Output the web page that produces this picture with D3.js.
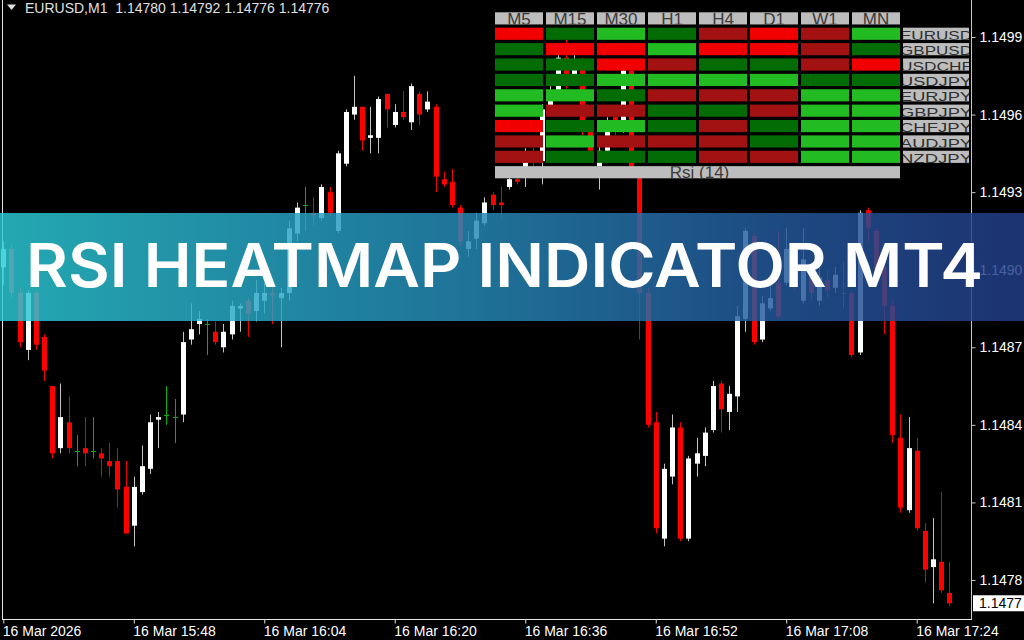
<!DOCTYPE html>
<html><head><meta charset="utf-8">
<script src="https://cdn.jsdelivr.net/npm/d3@7"></script>
<style>html,body{margin:0;padding:0;background:#000;overflow:hidden}</style>
</head><body>
<svg id="chart" width="1024" height="640"></svg>
<script>
// ---------- data ----------
const startTime = "2026-03-16 15:32";
const open = [1.14901,1.14908,1.14891,1.14869,1.14891,1.14874,1.14855,1.14831,1.14841,1.14830,
1.14831,1.14830,1.14829,1.14826,1.14826,1.14816,1.14801,1.14814,1.14823,1.14842,
1.14844,1.14843,1.14844,1.14873,1.14879,1.14879,1.14876,1.14870,1.14875,1.14885,
1.14888,1.14884,1.14888,1.14891,1.14889,1.14891,1.14914,1.14925,1.14922,1.14920,
1.14930,1.14915,1.14941,1.14960,1.14963,1.14951,1.14951,1.14968,1.14956,1.14961,
1.14957,1.14968,1.14962,1.14963,1.14935,1.14934,1.14924,1.14908,1.14912,1.14918,
1.14929,1.14926,1.14932,1.14935,1.14939,1.14944,1.14942,1.14962,1.14969,1.14982,
1.14973,1.14981,1.14955,1.14940,1.14946,1.14959,1.14954,1.14977,1.14938,1.14891,
1.14841,1.14796,1.14820,1.14839,1.14796,1.14825,1.14828,1.14838,1.14856,1.14845,
1.14851,1.14881,1.14913,1.14873,1.14885,1.14895,1.14895,1.14904,1.14888,1.14899,
1.14888,1.14896,1.14893,1.14891,1.14891,1.14868,1.14923,1.14915,1.14901,1.14886,
1.14835,1.14807,1.14830,1.14799,1.14785,1.14787,1.14775];
const high = [1.14911,1.14910,1.14893,1.14892,1.14892,1.14875,1.14855,1.14856,1.14851,1.14836,
1.14843,1.14843,1.14831,1.14833,1.14831,1.14826,1.14820,1.14832,1.14844,1.14845,
1.14855,1.14850,1.14876,1.14887,1.14884,1.14881,1.14880,1.14879,1.14888,1.14887,
1.14889,1.14896,1.14895,1.14894,1.14893,1.14919,1.14926,1.14932,1.14928,1.14933,
1.14932,1.14946,1.14962,1.14975,1.14963,1.14963,1.14967,1.14968,1.14964,1.14969,
1.14972,1.14969,1.14969,1.14964,1.14938,1.14939,1.14925,1.14915,1.14922,1.14928,
1.14930,1.14932,1.14936,1.14939,1.14947,1.14947,1.14964,1.14971,1.14983,1.14989,
1.14983,1.14982,1.14956,1.14948,1.14959,1.14961,1.14980,1.14981,1.14940,1.14893,
1.14845,1.14825,1.14844,1.14841,1.14828,1.14835,1.14839,1.14857,1.14857,1.14855,
1.14886,1.14916,1.14914,1.14890,1.14895,1.14915,1.14916,1.14906,1.14916,1.14903,
1.14904,1.14900,1.14901,1.14903,1.14892,1.14923,1.14924,1.14916,1.14903,1.14888,
1.14844,1.14843,1.14835,1.14802,1.14804,1.14814,1.14787];
const low = [1.14894,1.14889,1.14870,1.14865,1.14869,1.14857,1.14827,1.14829,1.14829,1.14824,
1.14824,1.14827,1.14820,1.14820,1.14808,1.14798,1.14793,1.14813,1.14821,1.14831,
1.14840,1.14833,1.14841,1.14871,1.14875,1.14867,1.14871,1.14868,1.14873,1.14876,
1.14874,1.14880,1.14883,1.14879,1.14870,1.14888,1.14911,1.14915,1.14917,1.14919,
1.14921,1.14914,1.14940,1.14958,1.14946,1.14945,1.14945,1.14955,1.14955,1.14958,
1.14954,1.14956,1.14961,1.14930,1.14932,1.14924,1.14909,1.14905,1.14908,1.14917,
1.14923,1.14920,1.14931,1.14933,1.14932,1.14940,1.14933,1.14960,1.14968,1.14970,
1.14971,1.14952,1.14944,1.14931,1.14944,1.14952,1.14953,1.14938,1.14873,1.14839,
1.14798,1.14793,1.14817,1.14795,1.14795,1.14820,1.14824,1.14837,1.14837,1.14838,
1.14845,1.14876,1.14871,1.14872,1.14884,1.14881,1.14894,1.14892,1.14887,1.14888,
1.14886,1.14889,1.14891,1.14885,1.14866,1.14867,1.14911,1.14894,1.14875,1.14833,
1.14806,1.14806,1.14799,1.14779,1.14771,1.14775,1.14770];
const close = [1.14908,1.14891,1.14872,1.14891,1.14871,1.14861,1.14829,1.14843,1.14831,1.14830,
1.14829,1.14830,1.14827,1.14824,1.14815,1.14798,1.14816,1.14824,1.14841,1.14843,
1.14844,1.14843,1.14872,1.14877,1.14881,1.14879,1.14872,1.14876,1.14886,1.14886,
1.14883,1.14891,1.14891,1.14890,1.14891,1.14916,1.14924,1.14925,1.14921,1.14932,
1.14922,1.14945,1.14961,1.14963,1.14950,1.14952,1.14966,1.14962,1.14961,1.14959,
1.14971,1.14960,1.14965,1.14936,1.14933,1.14925,1.14911,1.14911,1.14919,1.14926,
1.14925,1.14925,1.14935,1.14934,1.14944,1.14942,1.14962,1.14969,1.14982,1.14973,
1.14981,1.14955,1.14946,1.14946,1.14956,1.14954,1.14977,1.14939,1.14891,1.14840,
1.14800,1.14823,1.14839,1.14796,1.14827,1.14829,1.14837,1.14855,1.14846,1.14852,
1.14882,1.14915,1.14872,1.14887,1.14889,1.14882,1.14908,1.14895,1.14904,1.14891,
1.14897,1.14892,1.14898,1.14891,1.14867,1.14922,1.14916,1.14900,1.14886,1.14836,
1.14808,1.14831,1.14800,1.14784,1.14788,1.14776,1.14771];

const priceTicks = [1.1499, 1.1496, 1.1493, 1.1490, 1.1487, 1.1484, 1.1481, 1.1478];
const timeTicks = ["15:32","15:48","16:04","16:20","16:36","16:52","17:08","17:24"];
const timeTickLabels = ["16 Mar 2026","16 Mar 15:48","16 Mar 16:04","16 Mar 16:20",
  "16 Mar 16:36","16 Mar 16:52","16 Mar 17:08","16 Mar 17:24"];
const headerSymbol = "EURUSD,M1";
const headerOHLC = ["1.14780","1.14792","1.14776","1.14776"];

const timeframes = ["M5","M15","M30","H1","H4","D1","W1","MN"];
const pairs = ["EURUSD","GBPUSD","USDCHF","USDJPY","EURJPY","GBPJPY","CHFJPY","AUDJPY","NZDJPY"];
const rsiValues = [
  [24,58,76,57,42,23,41,77],
  [57,25,22,78,24,22,43,58],
  [56,58,24,43,57,58,42,23],
  [58,57,75,76,74,77,56,59],
  [77,76,58,42,41,43,78,75],
  [76,42,41,57,58,42,77,76],
  [23,57,76,58,43,56,77,78],
  [42,75,43,41,42,57,76,77],
  [43,58,57,56,42,41,78,76]];
const rsiLabel = "Rsi (14)";
const title = "RSI HEATMAP INDICATOR MT4";

// ---------- drawing ----------
const svg = d3.select("#chart");
const FONT = "'Liberation Sans', Arial, sans-serif";
svg.append("rect").attr("width",1024).attr("height",640).attr("fill","#000");

const parse = d3.timeParse("%Y-%m-%d %H:%M");
const t0 = parse(startTime);
const tickDates = timeTicks.map(s => parse("2026-03-16 " + s));
const xs = d3.scaleTime().domain([tickDates[0], tickDates[tickDates.length-1]]).range([3.3, 916.7]);
const ys = d3.scaleLinear().domain([1.1478, 1.1499]).range([580, 37]);

const bars = open.map((o,i) => ({t: d3.timeMinute.offset(t0, i), o, h: high[i], l: low[i], c: close[i]}));

const gC = svg.append("g");
bars.forEach(d => {
  const xc = Math.round(xs(d.t));
  const doji = d.o === d.c;
  const up = d.c > d.o;
  const wickCol = doji ? "#00b400" : (up ? "#c4c4c4" : "#ee0000");
  gC.append("line").attr("x1", xc+0.5).attr("x2", xc+0.5)
    .attr("y1", ys(d.h)).attr("y2", ys(d.l)).attr("stroke", wickCol).attr("stroke-width", 1);
  if (doji) {
    const yy = Math.round(ys(d.o)) + 0.5;
    gC.append("line").attr("x1", xc-2).attr("x2", xc+3).attr("y1", yy).attr("y2", yy)
      .attr("stroke", "#00b400").attr("stroke-width", 1);
  } else {
    const y1 = ys(Math.max(d.o, d.c)), y2 = ys(Math.min(d.o, d.c));
    gC.append("rect").attr("x", xc-2).attr("width", 5)
      .attr("y", y1).attr("height", Math.max(1.2, y2-y1))
      .attr("fill", up ? "#ffffff" : "#ff0000");
  }
});

// frame lines
svg.append("line").attr("x1",2.5).attr("x2",2.5).attr("y1",0).attr("y2",619.5).attr("stroke","#e6e6e6");
svg.append("line").attr("x1",971.5).attr("x2",971.5).attr("y1",0).attr("y2",619.5).attr("stroke","#c8c8c8");
svg.append("line").attr("x1",2).attr("x2",972).attr("y1",619.5).attr("y2",619.5).attr("stroke","#e6e6e6");

// right axis
const ax = svg.append("g").attr("transform","translate(971.5,0)")
  .call(d3.axisRight(ys).tickValues(priceTicks).tickFormat(d3.format(".4f")).tickSize(4).tickPadding(4));
ax.select(".domain").remove();
ax.selectAll(".tick line").attr("stroke","#c8c8c8");
ax.selectAll(".tick text").attr("fill","#ffffff").style("font-family",FONT).style("font-size","14px");

// bottom axis
const bx = svg.append("g").attr("transform","translate(0,619.5)")
  .call(d3.axisBottom(xs).tickValues(tickDates).tickFormat((d,i)=>timeTickLabels[i]).tickSize(4).tickPadding(3));
bx.select(".domain").remove();
bx.selectAll(".tick line").attr("stroke","#e6e6e6");
bx.selectAll(".tick text").attr("fill","#ffffff").attr("text-anchor","start").attr("x",-1)
  .style("font-family",FONT).style("font-size","14px");

// current price box
const last = close[close.length-1];
const yl = ys(last);
svg.append("rect").attr("x",973).attr("y",yl-8).attr("width",51).attr("height",16).attr("fill","#ffffff");
svg.append("text").attr("x",979).attr("y",yl+5).text(d3.format(".5f")(last).slice(0,6))
  .attr("fill","#000").style("font-family",FONT).style("font-size","14px");

// header
svg.append("path").attr("d","M7,4.5 L16,4.5 L11.5,10 Z").attr("fill","#e0e0e0");
svg.append("text").attr("x",25).attr("y",13).style("white-space","pre")
  .attr("fill","#e0e0e0").style("font-family",FONT).style("font-size","14px")
  .text(headerSymbol + "  " + headerOHLC.join(" "));

// ---------- heatmap table ----------
const colX = d3.scaleBand().domain(timeframes).range([495, 900]).paddingInner(0.059);
const rowY = d3.scaleBand().domain(["hdr", ...pairs, "rsi"]).range([12.3, 178.3]).paddingInner(0.21);
const color = d3.scaleThreshold().domain([30, 50, 70]).range(["#f20000","#a21212","#046c04","#22bb22"]);
const defs = svg.append("defs");
const gT = svg.append("g");
let clipN = 0;
function clipRect(x, y, w, h) {
  const id = "c" + (clipN++);
  defs.append("clipPath").attr("id", id).append("rect").attr("x",x).attr("y",y).attr("width",w).attr("height",h);
  return "url(#" + id + ")";
}
const bw = colX.bandwidth(), bh = rowY.bandwidth();
// headers
timeframes.forEach(tf => {
  const x = colX(tf), y = rowY("hdr");
  gT.append("rect").attr("x",x).attr("y",y).attr("width",bw).attr("height",bh).attr("fill","#bdbdbd");
  gT.append("text").attr("x",x+bw/2).attr("y",y+bh+0.5).attr("text-anchor","middle")
    .attr("clip-path", clipRect(x,y,bw,bh)).attr("fill","#3a3a3a")
    .style("font-family",FONT).style("font-size","17px").text(tf);
});
// cells
pairs.forEach((p, r) => {
  const y = rowY(p);
  timeframes.forEach((tf, c) => {
    gT.append("rect").attr("x",colX(tf)).attr("y",y).attr("width",bw).attr("height",bh)
      .attr("fill", color(rsiValues[r][c]));
  });
  const lx = 903, lw = 66;
  gT.append("rect").attr("x",lx).attr("y",y).attr("width",lw).attr("height",bh).attr("fill","#bdbdbd");
  gT.append("text").attr("x",lx-3).attr("y",y+bh).attr("textLength",72).attr("lengthAdjust","spacingAndGlyphs")
    .attr("clip-path", clipRect(lx,y,lw,bh)).attr("fill","#303030")
    .style("font-family",FONT).style("font-size","13px").text(p);
});
// rsi bar
{
  const y = rowY("rsi"), x0 = colX("M5"), x1 = colX("MN") + bw;
  gT.append("rect").attr("x",x0).attr("y",y).attr("width",x1-x0).attr("height",bh).attr("fill","#bdbdbd");
  gT.append("text").attr("x",(x0+x1)/2 + 2).attr("y",y+bh).attr("text-anchor","middle")
    .attr("clip-path", clipRect(x0,y,x1-x0,bh)).attr("fill","#3a3a3a")
    .style("font-family",FONT).style("font-size","17px").text(rsiLabel);
}

// ---------- banner ----------
const grad = defs.append("linearGradient").attr("id","bannerGrad").attr("x1","0").attr("x2","1").attr("y1","0").attr("y2","0");
[["0%","#2bcad6"],["45%","#258bb8"],["75%","#235a9d"],["100%","#223c88"]].forEach(s =>
  grad.append("stop").attr("offset",s[0]).attr("stop-color",s[1]));
svg.append("rect").attr("x",0).attr("y",213).attr("width",1024).attr("height",108)
  .attr("fill","url(#bannerGrad)").attr("fill-opacity",0.83);
svg.append("text").attr("x",26).attr("y",287).attr("textLength",957).attr("lengthAdjust","spacingAndGlyphs")
  .attr("fill","#ffffff").style("font-family","Inter, 'Open Sans', sans-serif").style("font-weight",600)
  .style("font-size","60px").text(title);
</script>
</body></html>
